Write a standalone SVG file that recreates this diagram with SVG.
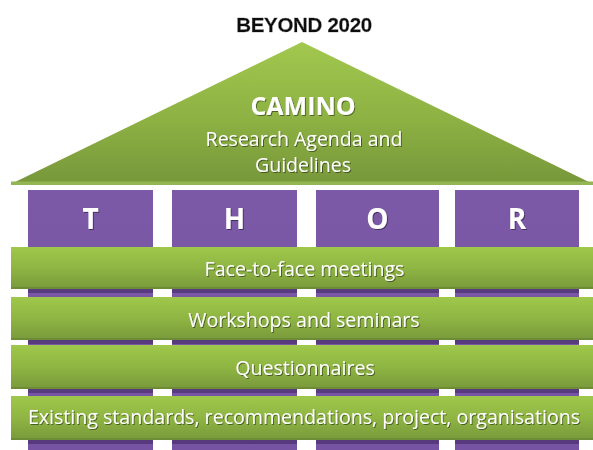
<svg xmlns="http://www.w3.org/2000/svg" width="593" height="450" viewBox="0 0 593 450">
<defs>
<linearGradient id="roofG" x1="0" y1="0" x2="0" y2="1">
<stop offset="0" stop-color="#a2c84e"/>
<stop offset="0.55" stop-color="#8db143"/>
<stop offset="1" stop-color="#77973a"/>
</linearGradient>
<linearGradient id="bandG" x1="0" y1="0" x2="0" y2="1">
<stop offset="0" stop-color="#9fc84b"/>
<stop offset="0.5" stop-color="#8fb543"/>
<stop offset="1" stop-color="#78993b"/>
</linearGradient>
<linearGradient id="pillarG" x1="0" y1="0" x2="0" y2="1">
<stop offset="0" stop-color="#7b59a7"/>
<stop offset="1" stop-color="#7754a3"/>
</linearGradient>
<clipPath id="pillarClip">
<rect x="28" y="190" width="125" height="260"/>
<rect x="172" y="190" width="125" height="260"/>
<rect x="316" y="190" width="123" height="260"/>
<rect x="455" y="190" width="124" height="260"/>
</clipPath>
<filter id="ts" x="-10%" y="-30%" width="120%" height="160%">
<feDropShadow dx="1" dy="1" stdDeviation="0.6" flood-color="#000" flood-opacity="0.45"/>
</filter>
<filter id="ts2" x="-10%" y="-30%" width="120%" height="160%">
<feDropShadow dx="0.5" dy="0.5" stdDeviation="0.8" flood-color="#fff" flood-opacity="0.6"/>
</filter>
</defs>
<style>
.band{fill:url(#bandG)}
.bandEdge{fill:#6d8c35}
.shadow{fill:#3e2560;opacity:0.55}
.pillar{fill:url(#pillarG)}
.lbl{font-family:"Open Sans","Liberation Sans",sans-serif;fill:#ffffff;text-anchor:middle}
.band-t{font-size:19.6px}
.letter{font-size:28px;font-weight:bold}
</style>
<rect width="593" height="450" fill="#ffffff"/>
<g id="title">
<text x="304" y="32" font-family="'Liberation Sans','Open Sans',sans-serif" font-weight="bold" font-size="20.5" fill="#111111" text-anchor="middle" letter-spacing="-0.3" stroke="#111111" stroke-width="0.4" filter="url(#ts2)">BEYOND 2020</text>
</g>
<g id="roof">
<polygon points="302,42 593,184 11,184" fill="url(#roofG)"/>
<rect x="11" y="181.5" width="582" height="3.5" fill="#93b553"/>
<text class="lbl" x="303" y="115" font-size="25" font-weight="bold" filter="url(#ts)">CAMINO</text>
<text class="lbl" x="304" y="146" font-size="19.5" filter="url(#ts)">Research Agenda and</text>
<text class="lbl" x="303" y="172" font-size="19.5" filter="url(#ts)">Guidelines</text>
</g>
<g id="pillar-T">
<rect class="pillar" x="28" y="190" width="125" height="260"/>
<text class="lbl letter" x="90.5" y="228.5" filter="url(#ts)">T</text>
</g>
<g id="pillar-H">
<rect class="pillar" x="172" y="190" width="125" height="260"/>
<text class="lbl letter" x="234.5" y="228.5" filter="url(#ts)">H</text>
</g>
<g id="pillar-O">
<rect class="pillar" x="316" y="190" width="123" height="260"/>
<text class="lbl letter" x="377.5" y="228.5" filter="url(#ts)">O</text>
</g>
<g id="pillar-R">
<rect class="pillar" x="455" y="190" width="124" height="260"/>
<text class="lbl letter" x="517" y="228.5" filter="url(#ts)">R</text>
</g>
<g id="band-shadows" clip-path="url(#pillarClip)">
<rect class="shadow" x="11" y="289" width="582" height="4"/>
<rect class="shadow" x="11" y="340" width="582" height="4"/>
<rect class="shadow" x="11" y="389" width="582" height="4"/>
<rect class="shadow" x="11" y="440" width="582" height="4"/>
</g>
<g id="band-1">
<rect class="band" x="11" y="247" width="582" height="42"/>
<rect class="bandEdge" x="11" y="287" width="582" height="2"/>
<text class="lbl band-t" x="304.5" y="276" filter="url(#ts)">Face-to-face meetings</text>
</g>
<g id="band-2">
<rect class="band" x="11" y="297" width="582" height="43"/>
<rect class="bandEdge" x="11" y="338" width="582" height="2"/>
<text class="lbl band-t" x="304" y="326.5" filter="url(#ts)">Workshops and seminars</text>
</g>
<g id="band-3">
<rect class="band" x="11" y="345" width="582" height="44"/>
<rect class="bandEdge" x="11" y="387" width="582" height="2"/>
<text class="lbl band-t" x="305" y="375" filter="url(#ts)">Questionnaires</text>
</g>
<g id="band-4">
<rect class="band" x="11" y="396" width="582" height="44"/>
<rect class="bandEdge" x="11" y="438" width="582" height="2"/>
<text class="lbl band-t" x="304" y="423.5" filter="url(#ts)">Existing standards, recommendations, project, organisations</text>
</g>
<g id="connectors"/>
</svg>
